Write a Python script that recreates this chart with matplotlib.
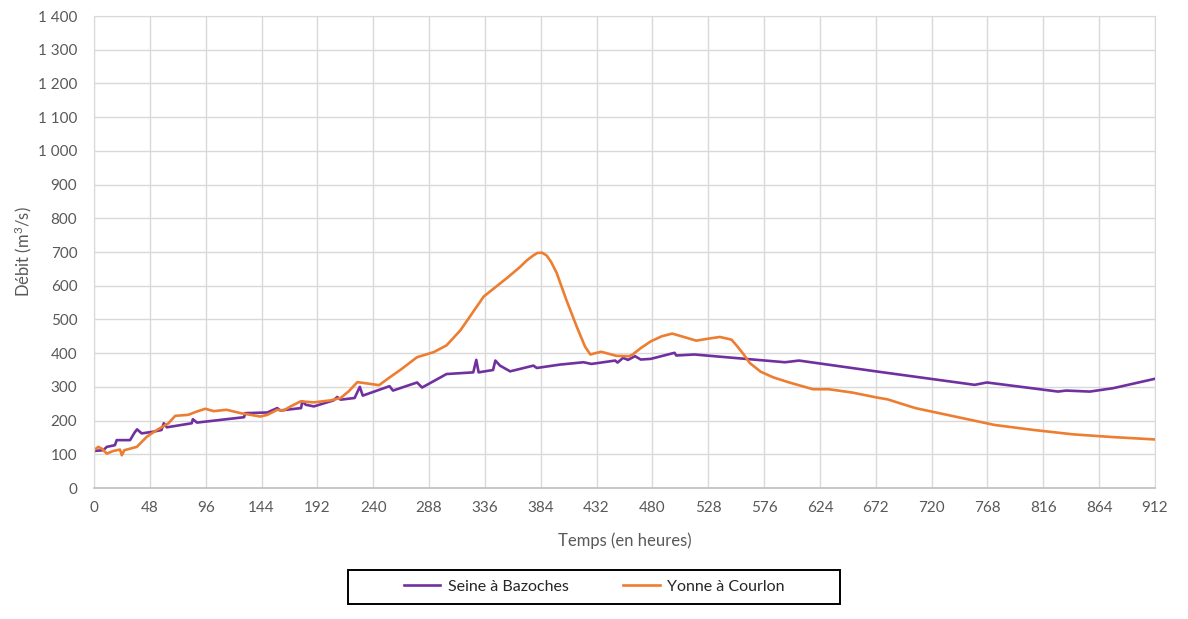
import matplotlib.pyplot as plt
from matplotlib.patches import Rectangle

# Seine à Bazoches (heures, m3/s)
seine_h = [0, 8, 11, 18, 19.5, 31, 35, 37, 41, 51, 58, 60, 62.6, 84, 85, 88.5,
           129, 130, 149, 157.5, 160, 178, 179, 182, 189, 206, 209, 212, 224,
           228.5, 231, 254, 257, 277.7, 282, 303, 326, 328.6, 330.6, 343, 345,
           349, 357.7, 377.7, 380.6, 400.4, 420.8, 427.6, 448, 450, 454.8, 459,
           465, 470, 478.6, 499, 500.5, 516, 560, 594, 606, 672, 757, 767.5,
           828.7, 835.5, 856, 876, 912]
seine_v = [110, 112, 122, 127, 142, 142, 165, 174, 162, 167, 172, 192, 180, 192,
           204, 194, 210, 222, 224, 237, 230, 237, 257, 247, 242, 260, 270, 262,
           267, 300, 274, 302, 289, 313, 298, 338, 343, 380, 343, 350, 378, 363,
           346, 363, 356, 366, 373, 368, 378, 372, 386, 380, 391, 381, 383, 401,
           393, 396, 383, 373, 378, 346, 306, 313, 286, 289, 286, 296, 324]

# Yonne à Courlon (heures, m3/s)
yonne_h = [0, 3.7, 6.6, 11, 16.7, 22.4, 23.9, 26, 36.8, 39.7, 45.4, 54, 64, 69.8,
           81, 88.5, 95.7, 102.9, 114, 126, 143, 149, 157.5, 163, 169, 177.6,
           189, 203.5, 212, 219, 226.4, 235, 245, 253.7, 264, 277.7, 292, 303,
           315, 335, 355, 366, 372, 377.7, 381, 385, 389, 393, 397.7, 406, 415,
           422, 426.6, 431, 436, 449, 460, 463, 470, 478.6, 488, 497, 507,
           517.7, 528, 538, 548, 553, 558.5, 563.6, 573, 584, 597.6, 618, 631.6,
           652, 672, 682, 706, 740, 774, 808, 842, 876, 912]
yonne_v = [112, 122, 117, 102, 110, 114, 97, 112, 122, 132, 152, 172, 192, 214,
           217, 227, 235, 228, 232, 222, 212, 217, 232, 230, 242, 257, 254, 260,
           267, 287, 314, 310, 305, 327, 352, 388, 403, 423, 468, 568, 623, 655,
           675, 690, 697, 698, 690, 670, 638, 558, 478, 420, 396, 400, 404, 392,
           391, 396, 415, 435, 450, 458, 448, 437, 443, 448, 440, 420, 396, 371,
           345, 328, 313, 293, 293, 283, 269, 263, 237, 212, 187, 172, 159, 151,
           144]

x_ticks = list(range(0, 913, 48))
x_labels = [str(t) for t in x_ticks]
y_ticks = list(range(0, 1401, 100))
y_labels = ["0", "100", "200", "300", "400", "500", "600", "700", "800", "900",
            "1 000", "1 100", "1 200", "1 300", "1 400"]

plt.rcParams["font.family"] = ["Lato", "DejaVu Sans"]
plt.rcParams["mathtext.fontset"] = "custom"
plt.rcParams["mathtext.rm"] = "Lato"
plt.rcParams["mathtext.default"] = "rm"
grey = "#595959"

fig = plt.figure(figsize=(11.88, 6.19), dpi=100)
ax = fig.add_axes([94 / 1188, 1 - 488 / 619, 1061 / 1188, 472 / 619])

ax.plot(seine_h, seine_v, color="#7030A0", lw=1.9, label="Seine à Bazoches")
ax.plot(yonne_h, yonne_v, color="#ED7D31", lw=1.9, label="Yonne à Courlon")

ax.set_xlim(0, 912)
ax.set_ylim(0, 1400)
ax.set_xticks(x_ticks, x_labels)
ax.set_yticks(y_ticks, y_labels)
ax.grid(True, color="#d9d9d9", lw=1)
ax.set_axisbelow(True)
for side in ["top", "right", "left"]:
    ax.spines[side].set_color("#d9d9d9")
ax.spines["bottom"].set_color("#bfbfbf")
ax.spines["bottom"].set_linewidth(1.2)
ax.tick_params(axis="both", length=0, labelsize=11, colors=grey)
ax.tick_params(axis="y", pad=12)
ax.tick_params(axis="x", pad=9)

ax.set_xlabel("Temps (en heures)", fontsize=12, color=grey, labelpad=13)
ax.set_ylabel("Débit (m$^{3}$/s)", fontsize=12, color=grey, labelpad=3)

fig.legend(loc="center", bbox_to_anchor=(0.5, 1 - 587 / 619), ncol=2,
           frameon=False, fontsize=11.5, handlelength=2.3, handletextpad=0.45,
           columnspacing=3.4, labelcolor="#262626")
fig.add_artist(Rectangle((348 / 1188, 1 - 604 / 619), 492 / 1188, 34 / 619,
                         transform=fig.transFigure, fill=False,
                         edgecolor="black", lw=1.4))

plt.savefig("out.png", dpi=100)
